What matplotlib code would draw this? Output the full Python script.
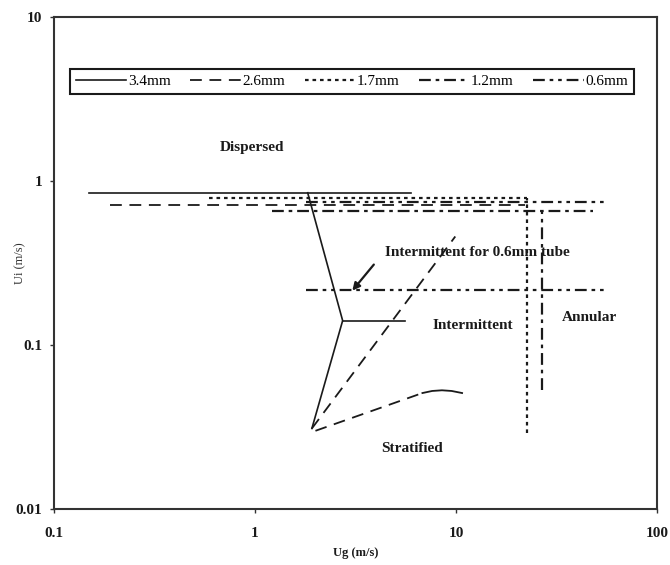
import matplotlib
matplotlib.use("Agg")
import matplotlib.pyplot as plt
from matplotlib.lines import Line2D

plt.rcParams['font.family'] = ['Liberation Serif', 'DejaVu Serif']
plt.rcParams['lines.scale_dashes'] = False

# 3.4mm tube (solid)
ug_34_top = [0.15, 6.0]
ul_34_top = [0.85, 0.85]
ug_34_bound = [1.83, 2.73, 1.92]
ul_34_bound = [0.85, 0.141, 0.031]
ug_34_branch = [2.73, 5.6]
ul_34_branch = [0.141, 0.141]

# 2.6mm tube (dashed)
ug_26_top = [0.19, 22.0]
ul_26_top = [0.718, 0.718]
ug_26_rise = [1.92, 9.9]
ul_26_rise = [0.031, 0.46]
ug_26_low = [2.0, 6.8]
ul_26_low = [0.030, 0.051]
ug_26_curve = [6.8, 7.6, 8.5, 9.5, 10.7]
ul_26_curve = [0.051, 0.0525, 0.053, 0.0525, 0.051]

# 1.7mm tube (dotted)
ug_17_top = [0.59, 22.4]
ul_17_top = [0.79, 0.79]
ug_17_vert = [22.4, 22.4]
ul_17_vert = [0.029, 0.79]

# 1.2mm tube (dash-dot)
ug_12_top = [1.22, 48.0]
ul_12_top = [0.659, 0.659]
ug_12_vert = [26.6, 26.6]
ul_12_vert = [0.053, 0.659]

# 0.6mm tube (dash-dot-dot)
ug_06_top = [1.8, 57.0]
ul_06_top = [0.751, 0.751]
ug_06_low = [1.79, 57.0]
ul_06_low = [0.217, 0.217]

sizes = ['3.4mm', '2.6mm', '1.7mm', '1.2mm', '0.6mm']

col = '#1a1a1a'
styles = {
    '3.4mm': dict(lw=1.2, linestyle='-'),
    '2.6mm': dict(lw=1.3, dashes=(8.5, 5.5)),
    '1.7mm': dict(lw=1.6, dashes=(2.6, 2.8)),
    '1.2mm': dict(lw=1.6, dashes=(8.5, 3.5, 2.6, 3.5)),
    '0.6mm': dict(lw=1.6, dashes=(8.5, 3.5, 2.6, 3.5, 2.6, 3.5)),
}

fig = plt.figure(figsize=(6.7, 5.65), dpi=100)
ax = fig.add_axes([0.0799, 0.0991, 0.9014, 0.8703])
ax.set_xscale('log')
ax.set_yscale('log')
ax.set_xlim(0.1, 100)
ax.set_ylim(0.01, 10)

ax.plot(ug_34_top, ul_34_top, color=col, **styles['3.4mm'])
ax.plot(ug_34_bound, ul_34_bound, color=col, **styles['3.4mm'])
ax.plot(ug_34_branch, ul_34_branch, color=col, **styles['3.4mm'])

ax.plot(ug_26_top, ul_26_top, color=col, **styles['2.6mm'])
ax.plot(ug_26_rise, ul_26_rise, color=col, **styles['2.6mm'])
ax.plot(ug_26_low, ul_26_low, color=col, **styles['2.6mm'])
ax.plot(ug_26_curve, ul_26_curve, color=col, lw=1.3)

ax.plot(ug_17_top, ul_17_top, color=col, **styles['1.7mm'])
ax.plot(ug_17_vert, ul_17_vert, color=col, **styles['1.7mm'])

ax.plot(ug_12_top, ul_12_top, color=col, **styles['1.2mm'])
ax.plot(ug_12_vert, ul_12_vert, color=col, **styles['1.2mm'])

ax.plot(ug_06_top, ul_06_top, color=col, **styles['0.6mm'])
ax.plot(ug_06_low, ul_06_low, color=col, **styles['0.6mm'])

bold = dict(fontsize=11, fontweight='bold', color=col)
ax.text(0.97, 1.6, 'Dispersed', ha='center', va='center', **bold)
ax.text(4.43, 0.366, 'Intermittent for 0.6mm tube', ha='left', va='center', **bold)
ax.text(7.67, 0.131, 'Intermittent', ha='left', va='center', **bold)
ax.text(46, 0.1466, 'Annular', ha='center', va='center', **bold)
ax.text(6.04, 0.0233, 'Stratified', ha='center', va='center', **bold)
ax.annotate('', xy=(3.05, 0.215), xytext=(3.9, 0.31),
            arrowprops=dict(arrowstyle='-|>', color=col, lw=1.6,
                            mutation_scale=11, shrinkA=0, shrinkB=0))

handles = [Line2D([], [], color=col, **styles[s]) for s in sizes]
leg = ax.legend(handles, sizes, loc='lower left', ncol=5, mode='expand',
                bbox_to_anchor=(0.027, 0.843, 0.934, 0.068), borderaxespad=0,
                fancybox=False, framealpha=1, edgecolor=col,
                handlelength=3.3, handletextpad=0.1, prop={'size': 11})
leg.get_frame().set_linewidth(1.5)

for sp in ax.spines.values():
    sp.set_color('#333333')
    sp.set_linewidth(1.5)

ax.set_xticks([0.1, 1, 10, 100])
ax.set_xticklabels(['0.1', '1', '10', '100'])
ax.set_yticks([0.01, 0.1, 1, 10])
ax.set_yticklabels(['0.01', '0.1', '1', '10'])
ax.minorticks_off()
ax.tick_params(direction='out', length=3, width=1, color='#333333',
               labelsize=11, pad=5)
ax.tick_params(axis='x', pad=10)
for lb in ax.get_xticklabels() + ax.get_yticklabels():
    lb.set_fontweight('bold')
    lb.set_color(col)

fig.text(356 / 670, 1 - 553 / 565, 'Ug (m/s)', fontsize=9, fontweight='bold',
         color=col, ha='center', va='center')
fig.text(20 / 670, 1 - 263 / 565, 'Ui (m/s)', fontsize=9, color='#333333',
         rotation=90, ha='center', va='center')

fig.savefig('out.png', dpi=100)
